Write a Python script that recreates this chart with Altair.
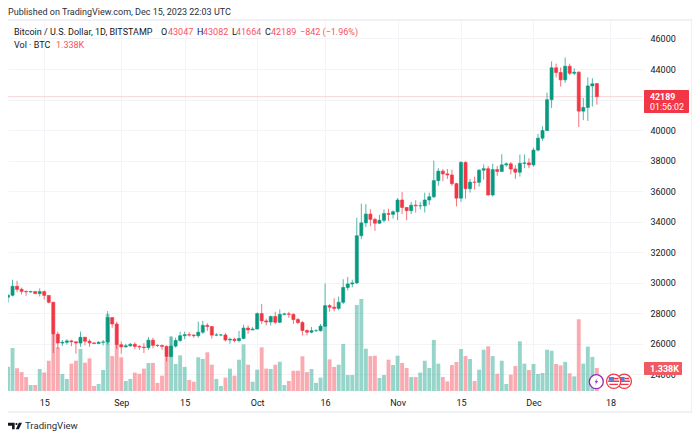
import altair as alt
import pandas as pd

FONT = "Roboto"
DARK = "#131722"
UP = "#089981"
DOWN = "#f23645"

opens = [29050,29180,29770,29570,29430,29400,29420,29290,29420,29170,28720,26630,26050,26100,26190,26130,26050,26430,26170,26060,26020,26100,26120,27720,27300,
 25940,25800,25870,25970,25830,25790,25750,26240,25900,25890,25830,25160,25850,26220,26530,26600,26570,26530,26760,27210,27130,26570,26580,26580,26250,26300,26210,26350,27030,26910,
 26970,27980,27500,27430,27790,27410,27930,27960,27930,27590,27390,26870,26760,26860,26860,27160,28500,28400,28320,28720,29690,29920,29990,33080,33920,34500,34150,33900,34090,34530,34480,
 34650,35420,34930,34720,35080,35040,35040,35420,35630,36690,37310,37130,37060,36490,35540,37880,36160,36590,36580,37370,37470,35750,37410,37290,37720,37790,37450,37240,37820,37850,
 37720,38690,39470,39970,41990,44080,43770,43290,44180,43720,43790,41240,41480,42890,43047]
closes = [29180,29770,29570,29430,29400,29420,29290,29420,29170,28720,26630,26050,26100,26190,26130,26050,26430,26170,26060,26020,26100,26120,27720,27300,25940,
 25800,25870,25970,25830,25790,25750,26240,25900,25890,25830,25160,25850,26220,26530,26600,26570,26530,26760,27210,27130,26570,26580,26580,26250,26300,26210,26350,27030,26910,26970,
 27980,27500,27430,27790,27410,27930,27960,27930,27590,27390,26870,26760,26860,26860,27160,28500,28400,28320,28720,29690,29920,29990,33080,33920,34500,34150,33900,34090,34530,34480,34650,
 35420,34930,34720,35080,35040,35040,35420,35630,36690,37310,37130,37060,36490,35540,37880,36160,36590,36580,37370,37470,35750,37410,37290,37720,37790,37450,37240,37820,37850,37720,
 38690,39470,39970,41990,44080,43770,43290,44180,43720,43790,41240,41480,42890,43030,42189]
highs = [29250,30200,30130,29680,29500,29480,29450,29630,29500,29150,28750,26800,26250,26300,26260,26150,26800,26450,26300,26100,26180,26250,28140,27730,27450,
 26150,26000,26050,26100,25900,26050,26450,26400,25950,25950,25900,26500,26400,26800,26800,26770,26630,27450,27500,27350,27150,26700,26650,26700,26400,26400,26850,27250,27200,27100,
 28050,28600,27650,27850,28100,28250,28030,28100,28000,27700,27500,26950,27100,26950,27300,29950,28600,28980,29100,30230,30380,30200,34250,35180,35150,34820,34250,34450,34800,34850,34750,
 35550,35950,34950,35300,35400,35300,35900,35900,38000,37500,37450,37450,37400,36550,37970,37950,36800,36950,37450,37750,37650,37800,37650,38420,37880,37900,37700,38400,38400,38150,
 38850,39750,40250,42450,44500,44350,44100,44750,44350,44050,43850,42100,43450,43400,43082]
lows = [28700,29100,29380,29240,29150,29350,29250,29100,28900,28650,25400,25650,25850,25950,25850,25350,25800,25900,25800,25980,25970,25900,25950,27050,25650,
 25350,25750,25800,25650,25600,25400,25600,25700,25800,25600,24850,25150,25750,26130,26300,26470,26400,26400,26650,26850,26350,26500,26500,26150,26000,26100,26100,26300,26650,26900,
 26950,27300,27200,27200,27300,27350,27870,27700,27300,27300,26550,26550,26700,26800,26800,27100,28100,28120,28200,28600,29500,29700,29900,32850,33650,33700,33400,33850,33950,34050,34200,
 34100,34500,34100,34500,34600,34800,34600,35100,35550,36350,36650,36800,36350,35000,35300,35500,35900,36100,36300,36750,35700,35650,37000,37300,37600,37100,36800,36950,37500,37500,
 37600,38600,39300,39950,41450,43450,42850,43100,43600,43600,40200,40650,40600,41550,41664]
volumes = [1.41,2.50,1.32,1.10,0.81,0.35,0.35,1.28,1.07,1.76,3.26,2.54,0.99,0.70,1.59,1.76,2.44,1.65,1.90,0.29,0.41,1.22,4.48,2.03,2.67,
 1.96,0.58,0.70,1.07,1.00,1.30,1.63,1.63,0.47,0.89,1.96,3.16,1.57,2.07,1.40,0.64,0.54,1.96,1.86,2.25,1.53,0.70,0.29,0.78,1.30,0.89,1.82,2.71,1.53,0.54,
 1.24,2.54,1.30,1.28,1.53,1.70,0.35,0.58,1.18,1.18,2.02,1.10,1.28,0.47,0.78,3.90,1.84,1.40,1.53,2.73,0.93,0.93,5.00,5.35,2.46,2.03,2.05,0.76,0.93,1.82,1.51,
 2.05,1.63,1.34,0.81,0.81,1.07,1.76,1.34,2.97,1.59,0.81,0.56,1.51,1.69,2.44,2.03,1.86,0.58,1.24,2.40,2.60,2.03,1.00,1.76,0.41,0.95,1.45,2.89,1.59,1.22,
 1.57,0.99,1.05,2.40,2.34,1.57,1.49,1.69,1.03,0.85,4.17,1.59,2.58,1.98,1.338]

x_tick_positions = [8, 25, 39, 55, 70, 86, 100, 116, 133]
x_tick_labels = ["15", "Sep", "15", "Oct", "16", "Nov", "15", "Dec", "18"]
price_ticks = [24000, 26000, 28000, 30000, 32000, 34000, 36000, 38000, 40000, 42000, 44000, 46000]
last_price = [42189]

df = pd.DataFrame({"i": list(range(len(closes))), "open": opens, "high": highs,
                   "low": lows, "close": closes, "vol": volumes})
df["dir"] = ["up" if c >= o else "down" for o, c in zip(opens, closes)]

W, H = 635, 371
label_expr = "[" + ",".join(f"'{t}'" for t in x_tick_labels) + "][indexof(" + str(x_tick_positions) + ",datum.value)]"

x_enc = alt.X("i:Q", title=None,
              scale=alt.Scale(domain=[0, 140.18], nice=False, zero=False, padding=0),
              axis=alt.Axis(values=x_tick_positions, labelExpr=label_expr, grid=True, gridColor="#f3f4f7",
                            ticks=False, domain=False, labelFont=FONT, labelFontSize=9, labelColor=DARK,
                            labelPadding=7, labelAngle=0, labelOverlap=False, labelFlush=False))
price_scale = alt.Scale(domain=[22909, 47210], nice=False, zero=False)
vol_scale = alt.Scale(domain=[0, 21.57], nice=False, zero=True)
dir_scale = alt.Scale(domain=["up", "down"], range=[UP, DOWN])
col = alt.Color("dir:N", scale=dir_scale, legend=None)
strk = alt.Stroke("dir:N", scale=dir_scale, legend=None)
y_none = dict(title=None, scale=price_scale, axis=None)

volume = alt.Chart(df).mark_bar(size=3.9, opacity=0.42, orient="vertical", clip=True).encode(
    x=x_enc, y=alt.Y("vol:Q", title=None, scale=vol_scale, axis=None, stack=None), color=col)

wicks = alt.Chart(df).mark_rule(strokeWidth=1, opacity=0.7, clip=True).encode(
    x=x_enc, y=alt.Y("low:Q", **y_none), y2="high:Q", color=col)

bodies = alt.Chart(df).mark_bar(size=3.1, strokeWidth=0.6, orient="vertical", clip=True).encode(
    x=x_enc,
    y=alt.Y("open:Q", title=None, scale=price_scale,
            axis=alt.Axis(values=price_ticks, orient="right", grid=True, gridColor="#f3f4f7",
                          ticks=False, domain=False, labelFont=FONT, labelFontSize=9, labelColor=DARK,
                          labelPadding=7, labelExpr="datum.value == 42000 ? '' : format(datum.value, 'd')",
                          labelOverlap=False, labelFlush=False)),
    y2="close:Q", color=col, stroke=strk)

price_line = alt.Chart(pd.DataFrame({"p": last_price})).mark_rule(color=DOWN, strokeWidth=1, opacity=0.22).encode(
    y=alt.Y("p:Q", **y_none))

one = pd.DataFrame({"a": [0]})

def text(s, x, y, color=DARK, size=9, align="left", weight="normal", font=FONT):
    return alt.Chart(pd.DataFrame({"t": [s]})).mark_text(
        align=align, baseline="middle", color=color, fontSize=size, font=font, fontWeight=weight, clip=False
    ).encode(text="t:N", x=alt.value(x - 8), y=alt.value(y - 20))

def box(x1, x2, y1, y2, **kw):
    return alt.Chart(one).mark_rect(clip=False, **kw).encode(
        x=alt.value(x1 - 8), x2=alt.value(x2 - 8), y=alt.value(y1 - 20), y2=alt.value(y2 - 20))

def glyph(shape, x, y, size, **kw):
    return alt.Chart(one).mark_point(shape=shape, size=size, filled=kw.pop("filled", True), opacity=1, clip=False, **kw).encode(
        x=alt.value(x - 8), y=alt.value(y - 20))

frame = box(7.5, 692, 20, 412, fill="transparent", stroke="#e0e3eb", strokeWidth=1)

RED = "#f7525f"
texts = [
    text("Published on TradingView.com, Dec 15, 2023 22:03 UTC", 8, 12, color="#2a2e39"),
    text("Bitcoin / U.S. Dollar, 1D, BITSTAMP", 14, 32),
    text("O", 161, 32), text("43047", 168, 32, color=RED),
    text("H", 197, 32), text("43082", 203, 32, color=RED),
    text("L", 232, 32), text("41664", 236, 32, color=RED),
    text("C", 265, 32), text("42189", 271, 32, color=RED),
    text("\u2212842 (\u22121.96%)", 300, 32, color=RED),
    text("Vol \u00b7 BTC", 14, 45), text("1.338K", 56, 45, color=RED),
    text("TradingView", 25, 426, color="#2a2e39", size=9.6),
]

labels = [
    box(644, 689, 90, 113, fill="#f23645", cornerRadius=1),
    text("42189", 650, 96.5, color="white", weight="bold", size=8.8),
    text("01:56:02", 650, 107, color="white", size=8.8),
    box(644, 682, 362, 375, fill="#f05a60", cornerRadius=1),
    text("1.338K", 650, 368.5, color="white", weight="bold"),
]

logo = glyph("M-1,-0.45H-0.05V0.45H-0.42V-0.05H-1Z M0.06,-0.28A0.15,0.15 0 1 0 0.36,-0.28A0.15,0.15 0 1 0 0.06,-0.28Z M0.55,-0.45H1L0.55,0.45H0.12Z",
             15, 426, 196, fill="#131722", strokeWidth=0)

BOLT = "M0.25,-0.65L-0.3,0.1H0L-0.25,0.65L0.3,-0.1H0Z"
FLAG_RED = "M-0.8,-0.1H0.8V0.1H-0.8Z M-0.62,0.35H0.62V0.55H-0.62Z M0.05,-0.5H0.7V-0.3H0.05Z"
FLAG_BLUE = "M-0.72,-0.62H0.05V-0.08H-0.72Z"
events = []
for cx in (624.3, 613.7):
    events += [
        glyph("circle", cx, 381.3, 205, fill="white", stroke=DOWN, strokeWidth=1.3),
        glyph(FLAG_RED, cx, 381.3, 190, fill=DOWN, strokeWidth=0),
        glyph(FLAG_BLUE, cx, 381.3, 190, fill="#4a80e8", strokeWidth=0),
    ]
events += [
    glyph("circle", 596.3, 381.7, 195, fill="white", stroke="#9c27b0", strokeWidth=1.3),
    glyph(BOLT, 596.3, 381.7, 140, fill="#9c27b0", strokeWidth=0),
]

chart = alt.layer(volume, price_line, wicks, bodies, frame, *texts, *labels, logo, *events).resolve_scale(
    y="independent"
).properties(
    width=W, height=H,
    padding={"left": 0, "top": 12, "right": 49, "bottom": 48},
    autosize=alt.AutoSizeParams(type="none"),
    background="white",
).configure_view(stroke=None)

chart.save("out.html", embed_options={"renderer": "svg", "actions": False})
